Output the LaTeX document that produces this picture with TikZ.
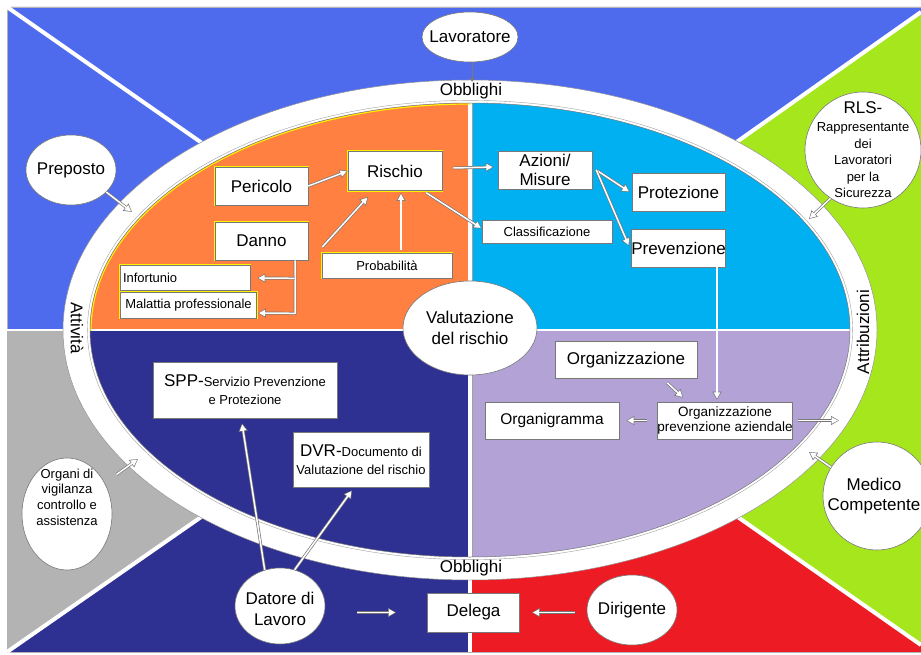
\documentclass[tikz,border=0pt]{standalone}
\usepackage{fontspec}
\setmainfont{Liberation Sans}
\usetikzlibrary{shapes.geometric,arrows.meta,calc}
\definecolor{cblue}{RGB}{79,107,237}
\definecolor{cgreen}{RGB}{166,230,29}
\definecolor{cred}{RGB}{237,28,36}
\definecolor{cnavy}{RGB}{46,49,146}
\definecolor{cgray}{RGB}{179,179,179}
\definecolor{corange}{RGB}{255,128,64}
\definecolor{ccyan}{RGB}{0,176,240}
\definecolor{clav}{RGB}{179,162,214}
\definecolor{cline}{RGB}{120,120,120}
\newcommand\fbig{\fontsize{17}{20.5}\selectfont}
\newcommand\fsmall{\fontsize{13}{15.7}\selectfont}
\begin{document}
\begin{tikzpicture}[x=1pt,y=-1pt,
  every node/.style={inner sep=0pt, font=\fbig, text=black},
  wbox/.style={rectangle, draw=cline, fill=white, line width=0.6pt, align=center},
  ybox/.style={wbox, preaction={draw=yellow, line width=2.6pt}},
  oval/.style={ellipse, draw=cline, fill=white, line width=0.6pt},
  circ/.style={circle, draw=cline, fill=white, line width=0.6pt},
  lbl/.style={font=\fbig, align=center, inner sep=0pt},
  harrow/.style={
    preaction={draw=cline, line width=2.9pt, shorten >=0pt,
      -{Triangle[length=8pt,width=8.6pt]}},
    draw=white, line width=1.5pt, shorten >=1.1pt,
    -{Triangle[length=6.2pt,width=6.2pt]}},
  thinarrow/.style={draw=cline, line width=0.8pt, -{Stealth[open,length=5pt,width=5pt]}},
  sep/.style={draw=white, line width=4pt},
]
\useasboundingbox (0,0) rectangle (921,655);
\fill[white] (0,0) rectangle (921,655);
% ---------- background sectors ----------
\coordinate (C) at (470,330);
\fill[cblue]  (C) -- (7,330) -- (7,7) -- (921,7) -- (921,12) -- cycle;
\fill[cgreen] (C) -- (921,12) -- (921,645) -- cycle;
\fill[cred]   (C) -- (921,645) -- (921,652) -- (470,652) -- cycle;
\fill[cnavy]  (C) -- (470,652) -- (7,652) -- cycle;
\fill[cgray]  (C) -- (7,652) -- (7,330) -- cycle;
\draw[cgray, line width=0.8pt] (921,7) -- (7,7) -- (7,652) -- (921,652);
\draw[sep] (C) -- (7,7);
\draw[sep] (C) -- (921,12);
\draw[sep] (C) -- (921,645);
\draw[sep] (C) -- (7,652);
\draw[white, line width=1.6pt] (C) -- (7,330);
\draw[cline!70, line width=4.6pt] (C) -- (470,652);
\draw[white, line width=3.2pt] (C) -- (470,652);
% ---------- ring ----------
\fill[white] (C) ellipse [x radius=407pt, y radius=250pt];
\draw[cline!80, line width=0.5pt] (C) ellipse [x radius=407pt, y radius=250pt];
\begin{scope}
  \clip (C) ellipse [x radius=380pt, y radius=227pt];
  \fill[corange] (85,95) rectangle (470,330);
  \fill[ccyan]   (470,95) rectangle (855,330);
  \fill[cnavy]   (85,330) rectangle (470,565);
  \fill[clav]    (470,330) rectangle (855,565);
  \draw[cline!70, line width=5pt] (470,95) -- (470,565);
  \draw[white, line width=3.4pt] (470,95) -- (470,565);
  \draw[white, line width=1.4pt] (85,330) -- (855,330);
\end{scope}
\begin{scope}
  \clip (85,95) rectangle (470,330);
  \draw[yellow, line width=1.2pt] (C) ellipse [x radius=379pt, y radius=226pt];
\end{scope}
\draw[cline, line width=0.5pt] (C) ellipse [x radius=380pt, y radius=227pt];
\draw[cline!70, line width=0.4pt] (C) ellipse [x radius=382.6pt, y radius=229.6pt];
% ---------- ring labels ----------
\node (obtop) at (471,91) {Obblighi};
\node (obbot) at (471,568) {Obblighi};
\node[rotate=-90] (att) at (77,328) {Attività};
\node[rotate=90] (attr) at (863,332) {Attribuzioni};
% ---------- center ----------
\node[oval, minimum width=134pt, minimum height=94pt,
      label={[lbl]center:{Valutazione\\del rischio}}] (valut) at (470,328) {};
% ---------- outer actors ----------
\node[oval, minimum width=96pt, minimum height=50pt, label={[lbl]center:Lavoratore}] (lav) at (470,37) {};
\node[oval, minimum width=90pt, minimum height=70pt, label={[lbl]center:Preposto}] (prep) at (71,170) {};
\node[circ, minimum size=116pt,
      label={[lbl, font=\fontsize{13}{16.6}\selectfont]center:{{\fbig RLS-}\\[1pt]Rappresentante\\dei\\Lavoratori\\per la\\Sicurezza}}] (rls) at (863,150) {};
\node[circ, minimum size=108pt, label={[lbl, xshift=-3pt]center:{Medico\\Competente}}] (med) at (877,496) {};
\node[oval, minimum width=90pt, minimum height=112pt,
      label={[lbl, font=\fsmall, yshift=17pt]center:{Organi di\\vigilanza\\controllo e\\assistenza}}] (organi) at (67,514) {};
\node[oval, minimum width=90pt, minimum height=76pt, label={[lbl, yshift=-3pt]center:{Datore di\\Lavoro}}] (datore) at (280,606) {};
\node[oval, minimum width=90pt, minimum height=70pt, label={[lbl]center:Dirigente}] (dir) at (632,610) {};
\node[wbox, minimum width=92pt, minimum height=39pt] (delega) at (473.5,612.5) {Delega};
% ---------- top-left quadrant ----------
\node[ybox, minimum width=93pt, minimum height=38pt] (pericolo) at (261.5,186) {Pericolo};
\node[ybox, minimum width=94pt, minimum height=39pt] (rischio) at (395,171) {Rischio};
\node[ybox, minimum width=93pt, minimum height=38pt] (danno) at (261.5,241) {Danno};
\node[ybox, text width=124pt, inner xsep=3pt, align=left, minimum height=25pt, font=\fsmall] (infort) at (185,277.5) {Infortunio};
\node[ybox, minimum width=136pt, minimum height=26pt, font=\fsmall] (malat) at (188.5,305) {Malattia professionale};
\node[ybox, minimum width=130pt, minimum height=25pt, font=\fsmall] (prob) at (387,265.5) {Probabilità};
% ---------- top-right quadrant ----------
\node[wbox, minimum width=94pt, minimum height=38pt, font=\fontsize{17}{19.5}\selectfont] (azioni) at (545,170) {Azioni/\\Misure};
\node[wbox, minimum width=93pt, minimum height=38pt] (prot) at (678.5,192) {Protezione};
\node[wbox, minimum width=130pt, minimum height=23pt, font=\fsmall] (class) at (547,231.5) {Classificazione};
\node[wbox, minimum width=93pt, minimum height=38pt] (prev) at (678.5,248) {Prevenzione};
% ---------- bottom-right quadrant ----------
\node[wbox, minimum width=142pt, minimum height=37pt] (org) at (626,360) {Organizzazione};
\node[wbox, minimum width=134pt, minimum height=37pt, font=\fontsize{15.5}{18}\selectfont] (orgrm) at (552,420.5) {Organigramma};
\node[wbox, minimum width=134pt, minimum height=37pt, font=\fontsize{13.5}{15.7}\selectfont] (op) at (725,420.5) {Organizzazione\\prevenzione aziendale};
% ---------- bottom-left quadrant ----------
\node[wbox, minimum width=184pt, minimum height=56pt, font=\fontsize{13}{18}\selectfont] (spp) at (245,390) {{\fbig SPP-}Servizio Prevenzione\\e Protezione};
\node[wbox, minimum width=136pt, minimum height=55pt, font=\fontsize{13}{17.5}\selectfont] (dvr) at (361,459.5) {{\fbig DVR-}Documento di\\Valutazione del rischio};
% ---------- free ends ----------
\coordinate (ringtop) at (472,82);
\coordinate (p1) at (132,212);
\coordinate (o1) at (138,459);
\coordinate (r1) at (809,219);
\coordinate (m1) at (809,452);
\coordinate (opr) at (839,420.5);
\coordinate (dj) at ($(danno.south)+(33.5,0)$);
% ---------- connectors ----------
\draw[thinarrow] (lav.south -| ringtop) -- (ringtop);
\draw[harrow] (prep.-32) -- (p1);
\draw[harrow] ($(organi.40)+(12,-8)$) -- (o1);
\draw[harrow] (rls.236) -- (r1);
\draw[harrow] (med.148) -- (m1);
\draw[harrow] (pericolo.east) -- (rischio.west);
\draw[harrow] ($(danno.east)+(14,6)$) -- ($(rischio.south)+(-27,6)$);
\draw[harrow] ($(prob.north)+(14,-3)$) -- ($(rischio.south)+(6,2)$);
\draw[harrow] ($(rischio.south east)+(-16,2)$) -- ($(class.west)+(0,-3)$);
\draw[harrow] ($(rischio.east)+(11,-3)$) -- ($(azioni.west)+(-4,-3)$);
\draw[harrow] (dj) -- ($(dj)+(0,53)$) -- ($(malat.east)+(1,8)$);
\draw[harrow] ($(dj)+(-0.3,18)$) -- ($(infort.east)+(7,0.5)$);
\draw[harrow] ($(azioni.east)+(4,0)$) -- ($(prot.west)+(-2,0)$);
\draw[harrow] ($(azioni.east)+(4,0)$) -- ($(prev.west)+(-2,-2)$);
\draw[harrow] ($(prev.south)+(38.5,0)$) -- ($(op.north)+(-8,-2)$);
\draw[harrow] ($(org.south east)+(-30,4)$) -- ($(op.north west)+(26,-4)$);
\draw[harrow] ($(op.west)+(-10,0)$) -- ($(orgrm.east)+(7,0)$);
\draw[harrow] ($(op.east)+(5,0)$) -- (opr);
\draw[harrow] (datore.113) -- ($(spp.south)+(-3,5)$);
\draw[harrow] (datore.68) -- ($(dvr.south)+(-9,3)$);
\draw[harrow] ($(datore.east |- delega.west)+(32,0)$) -- ($(delega.west)+(-31,0)$);
\draw[harrow] ($(dir.west |- delega.east)+(-12,0)$) -- ($(delega.east)+(12,0)$);
\end{tikzpicture}
\end{document}
